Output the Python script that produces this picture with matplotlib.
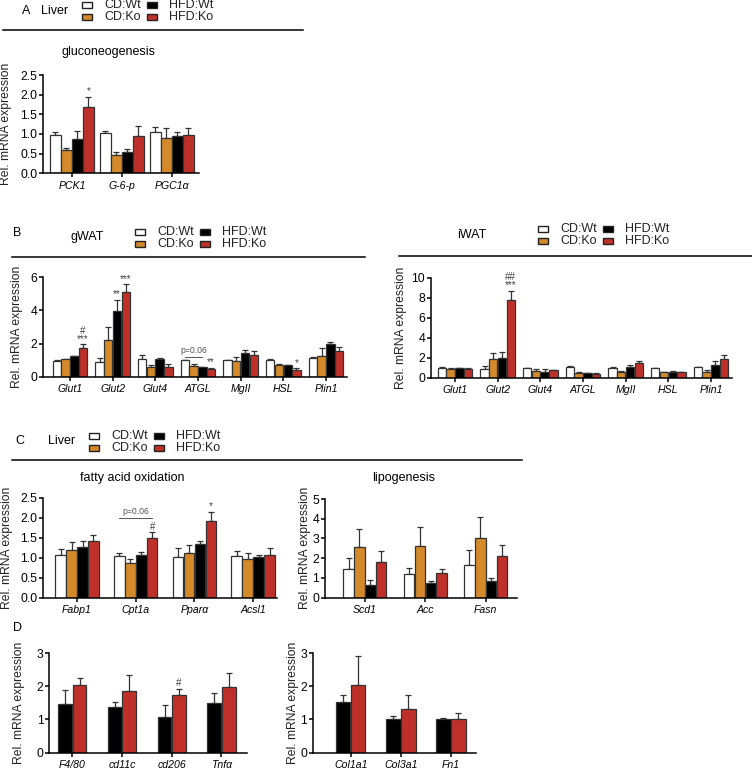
import matplotlib
matplotlib.use('Agg')
import matplotlib.pyplot as plt
from matplotlib.patches import Rectangle
from matplotlib.lines import Line2D
import numpy as np

plt.rcParams['font.family'] = ['Liberation Sans', 'DejaVu Sans']

W, H = 752, 773
fig = plt.figure(figsize=(W / 100, H / 100), dpi=100)

# ---------------- data ----------------
group_names = ['CD:Wt', 'CD:Ko', 'HFD:Wt', 'HFD:Ko']
group_colors = ['#ffffff', '#d4892a', '#000000', '#c0302a']

# Panel A: liver gluconeogenesis
a_genes = ['PCK1', 'G-6-p', 'PGC1α']
a_means = [[0.97, 1.02, 1.06], [0.59, 0.46, 0.91], [0.88, 0.53, 0.95], [1.68, 0.94, 0.98]]
a_errs = [[0.07, 0.06, 0.12], [0.05, 0.09, 0.25], [0.20, 0.09, 0.10], [0.27, 0.26, 0.18]]

# Panel B: gWAT
b_genes = ['Glut1', 'Glut2', 'Glut4', 'ATGL', 'MgII', 'HSL', 'Plin1']
bg_means = [[0.97, 0.90, 1.07, 0.99, 1.00, 1.01, 1.10],
            [1.05, 2.21, 0.60, 0.62, 0.93, 0.72, 1.27],
            [1.23, 3.98, 1.07, 0.58, 1.45, 0.70, 1.95],
            [1.75, 5.13, 0.60, 0.46, 1.33, 0.42, 1.53]]
bg_errs = [[0.03, 0.20, 0.22, 0.03, 0.02, 0.05, 0.10],
           [0.00, 0.79, 0.10, 0.14, 0.24, 0.06, 0.44],
           [0.04, 0.65, 0.03, 0.03, 0.14, 0.02, 0.12],
           [0.20, 0.44, 0.14, 0.05, 0.20, 0.08, 0.26]]

# Panel B: iWAT
bi_means = [[1.00, 0.87, 0.93, 1.03, 0.97, 0.97, 1.03],
            [0.90, 1.83, 0.67, 0.47, 0.60, 0.57, 0.53],
            [0.93, 2.00, 0.60, 0.43, 1.03, 0.60, 1.30],
            [0.90, 7.80, 0.73, 0.40, 1.50, 0.57, 1.83]]
bi_errs = [[0.07, 0.30, 0.04, 0.10, 0.06, 0.03, 0.04],
           [0.10, 0.67, 0.23, 0.06, 0.07, 0.03, 0.20],
           [0.04, 0.60, 0.23, 0.04, 0.20, 0.10, 0.37],
           [0.03, 0.87, 0.07, 0.07, 0.17, 0.03, 0.40]]

# Panel C: liver fatty acid oxidation
c_genes = ['Fabp1', 'Cpt1a', 'Pparα', 'Acsl1']
c_means = [[1.07, 1.04, 1.03, 1.05], [1.20, 0.87, 1.12, 0.98],
           [1.28, 1.06, 1.35, 1.03], [1.43, 1.49, 1.93, 1.07]]
c_errs = [[0.15, 0.08, 0.21, 0.13], [0.20, 0.10, 0.21, 0.14],
          [0.14, 0.09, 0.08, 0.05], [0.13, 0.15, 0.22, 0.17]]

# Panel C: liver lipogenesis
l_genes = ['Scd1', 'Acc', 'Fasn']
l_means = [[1.44, 1.20, 1.66], [2.56, 2.64, 3.02], [0.64, 0.75, 0.85], [1.81, 1.27, 2.12]]
l_errs = [[0.56, 0.29, 0.78], [0.91, 0.95, 1.06], [0.26, 0.11, 0.13], [0.58, 0.17, 0.54]]

# Panel D (HFD groups only)
d1_genes = ['F4/80', 'cd11c', 'cd206', 'Tnfα']
d1_means = [[1.48, 1.38, 1.06, 1.50], [2.03, 1.86, 1.73, 1.98]]
d1_errs = [[0.42, 0.15, 0.37, 0.31], [0.22, 0.49, 0.20, 0.42]]
d2_genes = ['Col1a1', 'Col3a1', 'Fn1']
d2_means = [[1.53, 1.00, 1.00], [2.05, 1.30, 1.01]]
d2_errs = [[0.22, 0.11, 0.05], [0.85, 0.45, 0.17]]

# significance marks: (series index, gene index, text)
a_sig = [(3, 0, '*')]
bg_sig = [(3, 0, '#\n***'), (2, 1, '**'), (3, 1, '***'), (3, 3, '**'), (3, 5, '*')]
bi_sig = [(3, 1, '##\n***')]
c_sig = [(3, 1, '#'), (3, 2, '*')]
d1_sig = [(1, 2, '#')]
# brackets: (gene index, series from, series to, y, text)
bg_brackets = [(3, 0, 2, 1.2, 'p=0.06')]
c_brackets = [(1, 0, 3, 2.0, 'p=0.06')]

EDGE = '#333333'
ERRC = '#333333'


def add_ax(l, t, r, b):
    return fig.add_axes([l / W, 1 - b / H, (r - l) / W, (b - t) / H])


def bar_panel(ax, genes, means, errs, colors, bw, xlim, yticks, yfmt,
              label_right_px, left_px, width_px, sig=(), brackets=()):
    n = len(means)
    x = np.arange(len(genes))
    offs = (np.arange(n) - (n - 1) / 2) * bw
    for k in range(n):
        m = np.array(means[k])
        e = np.array(errs[k])
        ax.bar(x + offs[k], m, width=bw * 0.96, color=colors[k], edgecolor=EDGE,
               linewidth=0.9, zorder=2)
        ax.errorbar(x + offs[k], m, yerr=[np.zeros_like(e), e], fmt='none',
                    ecolor=ERRC, elinewidth=0.9, capsize=2.2, capthick=0.9, zorder=1)
    for (k, g, s) in sig:
        top = means[k][g] + errs[k][g]
        ax.annotate(s, xy=(x[g] + offs[k], top), xytext=(0, 0.5), textcoords='offset points',
                    ha='center', va='bottom', fontsize=7, color='#444444',
                    linespacing=0.75, annotation_clip=False)
    for (g, k1, k2, yv, s) in brackets:
        ax.plot([x[g] + offs[k1], x[g] + offs[k2]], [yv, yv], color='#555555', lw=0.7,
                clip_on=False)
        ax.annotate(s, xy=((x[g] + offs[k1] + x[g] + offs[k2]) / 2, yv), xytext=(0, 1.5),
                    textcoords='offset points', ha='center', va='bottom', fontsize=6.2,
                    color='#555555', annotation_clip=False)
    ax.set_xlim(*xlim)
    ax.set_ylim(0, yticks[-1])
    ax.set_yticks(yticks)
    ax.set_yticklabels([yfmt.format(v) for v in yticks], fontsize=8.8)
    ax.set_xticks(x)
    ax.set_xticklabels(genes, fontsize=7.6, style='italic')
    for sp in ['top', 'right']:
        ax.spines[sp].set_visible(False)
    for sp in ['left', 'bottom']:
        ax.spines[sp].set_linewidth(1.1)
    ax.tick_params(axis='y', length=3, width=1.1, pad=1.2)
    ax.tick_params(axis='x', length=3, width=1.1, pad=2.5)
    ax.set_ylabel('Rel. mRNA expression', fontsize=8.7, color='#222222')
    ax.yaxis.set_label_coords((label_right_px - left_px) / width_px, 0.5)


def ftext(x, y, s, **kw):
    kw.setdefault('fontsize', 9)
    kw.setdefault('va', 'center')
    fig.text(x / W, 1 - y / H, s, **kw)


def hline(x0, x1, y):
    fig.add_artist(Line2D([x0 / W, x1 / W], [1 - y / H, 1 - y / H], color='black', lw=1.1,
                          transform=fig.transFigure))


def legend_block(x0, y0):
    # x0: left of first box, y0: center y of first row (pixels)
    for k, (nm, col) in enumerate(zip(group_names, group_colors)):
        cx = x0 + (k // 2) * 65
        cy = y0 + (k % 2) * 12
        fig.add_artist(Rectangle((cx / W, 1 - (cy + 3) / H), 10 / W, 6 / H, facecolor=col,
                                 edgecolor='#222222', linewidth=1.0,
                                 transform=fig.transFigure))
        ftext(cx + 22, cy, nm, fontsize=9, ha='left', color='#222222')


# ---------------- headers ----------------
ftext(22, 11, 'A', ha='left')
ftext(41, 11, 'Liver', ha='left')
legend_block(82, 5)
hline(3, 303, 29.5)

ftext(13, 233, 'B', ha='left')
ftext(87, 237, 'gWAT', ha='center')
legend_block(135, 232)
hline(12, 365, 256.7)

ftext(472, 235, 'iWAT', ha='center')
legend_block(538, 229)
hline(399, 752, 255.7)

ftext(15, 441.5, 'C', ha='left')
ftext(48, 441.5, 'Liver', ha='left')
legend_block(89, 436)
hline(12, 522, 460)

ftext(13, 628, 'D', ha='left')

ftext(109, 52, 'gluconeogenesis', ha='center')
ftext(132, 478, 'fatty acid oxidation', ha='center')
ftext(404, 478, 'lipogenesis', ha='center')

# ---------------- panels ----------------
axA = add_ax(43.3, 75, 199.3, 173.3)
bar_panel(axA, a_genes, a_means, a_errs, group_colors, 0.22, (-0.573, 2.547),
          [0, 0.5, 1.0, 1.5, 2.0, 2.5], '{:.1f}', 12, 43.3, 156, sig=a_sig)

axBg = add_ax(43.3, 277.3, 346.7, 376.7)
bar_panel(axBg, b_genes, bg_means, bg_errs, group_colors, 0.205, (-0.625, 6.485),
          [0, 2, 4, 6], '{:.0f}', 23, 43.3, 303.4, sig=bg_sig, brackets=bg_brackets)

axBi = add_ax(431, 277.7, 731.7, 377.7)
bar_panel(axBi, b_genes, bi_means, bi_errs, group_colors, 0.205, (-0.562, 6.485),
          [0, 2, 4, 6, 8, 10], '{:.0f}', 407, 431, 300.7, sig=bi_sig)

axC = add_ax(43.3, 498, 276.7, 597.7)
bar_panel(axC, c_genes, c_means, c_errs, group_colors, 0.187, (-0.574, 3.40),
          [0, 0.5, 1.0, 1.5, 2.0, 2.5], '{:.1f}', 13, 43.3, 233.4, sig=c_sig,
          brackets=c_brackets)

axL = add_ax(325, 499, 517, 597.7)
bar_panel(axL, l_genes, l_means, l_errs, group_colors, 0.18, (-0.66, 2.516),
          [0, 1, 2, 3, 4, 5], '{:.0f}', 311, 325, 192)

axD1 = add_ax(49.3, 653, 246.7, 752.7)
bar_panel(axD1, d1_genes, d1_means, d1_errs, group_colors[2:], 0.29, (-0.463, 3.507),
          [0, 1, 2, 3], '{:.0f}', 25, 49.3, 197.4, sig=d1_sig)

axD2 = add_ax(313, 653, 476, 752.7)
bar_panel(axD2, d2_genes, d2_means, d2_errs, group_colors[2:], 0.30, (-0.754, 2.5),
          [0, 1, 2, 3], '{:.0f}', 299, 313, 163)

fig.savefig('out.png', dpi=100)
